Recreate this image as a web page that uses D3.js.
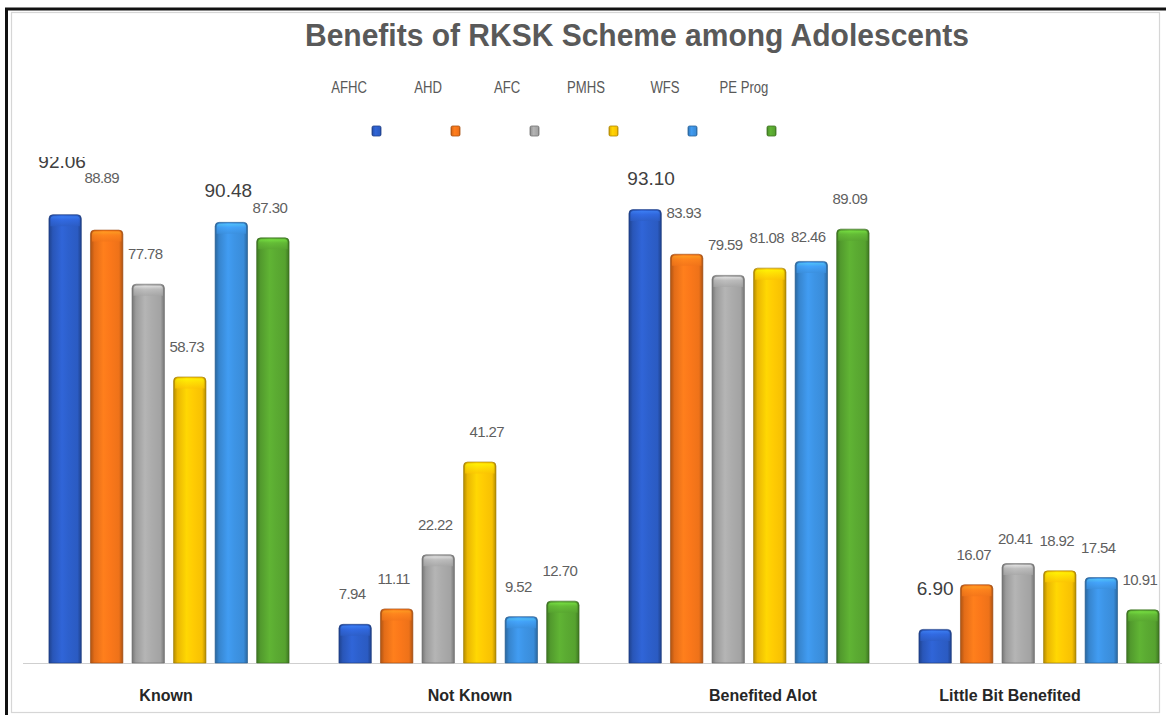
<!DOCTYPE html>
<html>
<head>
<meta charset="utf-8">
<script src="https://cdn.jsdelivr.net/npm/d3@7"></script>
<style>
  body { margin: 0; background: #fff; }
  svg { display: block; }
</style>
</head>
<body>
<svg id="chart" width="1166" height="715"></svg>
<script>
// ---- data ----
const categories = ["Known", "Not Known", "Benefited Alot", "Little Bit Benefited"];
const seriesNames = ["AFHC", "AHD", "AFC", "PMHS", "WFS", "PE Prog"];
const afhc   = [92.06,  7.94, 93.10,  6.90];
const ahd    = [88.89, 11.11, 83.93, 16.07];
const afc    = [77.78, 22.22, 79.59, 20.41];
const pmhs   = [58.73, 41.27, 81.08, 18.92];
const wfs    = [90.48,  9.52, 82.46, 17.54];
const peProg = [87.30, 12.70, 89.09, 10.91];
const seriesValues = [afhc, ahd, afc, pmhs, wfs, peProg];

// ---- styling ----
const colors = ["#2B5BC2", "#EE7219", "#A3A3A3", "#F7C103", "#3A8CD9", "#56A22F"];
const W = 1166, H = 715;
const plot = { left: 24, right: 1184, top: 176, bottom: 663 };

// a few value labels sit off their default spot
const labelNudge = {
  "Known|AFHC": [0, -22], "Known|AHD": [-2, -22],
  "Not Known|PMHS": [10, 0],
  "Benefited Alot|AFHC": [9, 0], "Benefited Alot|AHD": [0, -11], "Benefited Alot|WFS": [0, 6],
  "Little Bit Benefited|AFHC": [3, -9], "Little Bit Benefited|AFC": [0, 5]
};
const bigLabels = new Set(["Known|AFHC", "Known|WFS", "Benefited Alot|AFHC", "Little Bit Benefited|AFHC"]);
const catLabelShift = [-3, 11, 14, -29];

const svg = d3.select("#chart");
const defs = svg.append("defs");

svg.append("rect").attr("width", W).attr("height", H).attr("fill", "#fff");

// horizontal gradients give the bars their rounded, glossy look
colors.forEach((c, i) => {
  const base = d3.color(c);
  const g = defs.append("linearGradient").attr("id", "bar" + i)
    .attr("x1", "0%").attr("x2", "100%").attr("y1", "0%").attr("y2", "0%");
  [[0, base.darker(0.9)], [0.12, base.darker(0.15)], [0.4, base.brighter(0.3)],
   [0.6, base.brighter(0.15)], [0.88, base], [1, base.darker(0.9)]]
    .forEach(([o, col]) => g.append("stop").attr("offset", o).attr("stop-color", col.formatHex()));
  const t = defs.append("linearGradient").attr("id", "cap" + i)
    .attr("x1", "0%").attr("x2", "0%").attr("y1", "0%").attr("y2", "100%");
  [[0, base.brighter(1.1)], [0.35, base.brighter(0.5)], [1, base.brighter(0.05)]]
    .forEach(([o, col]) => t.append("stop").attr("offset", o).attr("stop-color", col.formatHex()));
});

// the legend panel overlaps the top of the plot area
defs.append("clipPath").attr("id", "plotClip")
  .append("rect").attr("x", 12).attr("y", 157).attr("width", 1148).attr("height", 555);

// ---- scales ----
const x0 = d3.scaleBand().domain(categories).range([plot.left, plot.right]).padding(0);
const x1 = d3.scaleBand().domain(seriesNames).range([0, x0.bandwidth()])
  .paddingInner(0.22).paddingOuter(0.6);
const y = d3.scaleLinear().domain([0, 100]).range([plot.bottom, plot.top]);

// ---- frame ----
svg.append("rect").attr("x", 11.5).attr("y", 12.5).attr("width", 1148).attr("height", 700)
  .attr("fill", "none").attr("stroke", "#d6d6d6").attr("stroke-width", 1.2);
svg.append("line").attr("x1", 5).attr("x2", W).attr("y1", 9).attr("y2", 9)
  .attr("stroke", "#111").attr("stroke-width", 3);
svg.append("line").attr("x1", 6.5).attr("x2", 6.5).attr("y1", 8).attr("y2", H)
  .attr("stroke", "#111").attr("stroke-width", 3);

// ---- baseline ----
svg.append("line").attr("x1", 23).attr("x2", 1162)
  .attr("y1", plot.bottom + 0.5).attr("y2", plot.bottom + 0.5)
  .attr("stroke", "#cfcfcf").attr("stroke-width", 1.2);

// ---- bars ----
const rows = [];
categories.forEach((cat, ci) => {
  seriesNames.forEach((s, si) => rows.push({ cat, ci, s, si, v: seriesValues[si][ci] }));
});

const bars = svg.append("g").selectAll("g.bar").data(rows).join("g").attr("class", "bar")
  .attr("transform", d => `translate(${x0(d.cat) + x1(d.s)},0)`);
const bw = x1.bandwidth();

bars.append("path")
  .attr("d", d => {
    const top = y(d.v), bot = y(0), r = 4;
    return `M0,${bot} L0,${top + r} Q0,${top} ${r},${top} L${bw - r},${top} Q${bw},${top} ${bw},${top + r} L${bw},${bot} Z`;
  })
  .attr("fill", d => `url(#bar${d.si})`)
  .attr("stroke", d => d3.color(colors[d.si]).darker(1.3).formatHex())
  .attr("stroke-opacity", 0.6).attr("stroke-width", 1);

bars.append("path")
  .attr("d", d => {
    const top = y(d.v) + 1.5, r = 3, h = Math.min(10, y(0) - top - 1);
    return `M1.5,${top + h} L1.5,${top + r} Q1.5,${top} ${1.5 + r},${top} L${bw - 1.5 - r},${top} Q${bw - 1.5},${top} ${bw - 1.5},${top + r} L${bw - 1.5},${top + h} Z`;
  })
  .attr("fill", d => `url(#cap${d.si})`).attr("opacity", 0.7);

// ---- value labels ----
const fmt = d3.format(".2f");
svg.append("g").attr("clip-path", "url(#plotClip)")
  .selectAll("text").data(rows).join("text")
  .attr("x", d => {
    const n = labelNudge[d.cat + "|" + d.s] || [0, 0];
    return x0(d.cat) + x1(d.s) + bw / 2 - 3 + n[0];
  })
  .attr("y", d => {
    const n = labelNudge[d.cat + "|" + d.s] || [0, 0];
    return y(d.v) - 25 + n[1];
  })
  .attr("text-anchor", "middle")
  .attr("font-family", "Liberation Sans, Arial, sans-serif")
  .attr("font-size", d => bigLabels.has(d.cat + "|" + d.s) ? 19 : 15)
  .attr("fill", d => bigLabels.has(d.cat + "|" + d.s) ? "#404040" : "#5f5f5f")
  .attr("letter-spacing", d => bigLabels.has(d.cat + "|" + d.s) ? 0 : -0.6)
  .text(d => fmt(d.v));

// ---- category labels ----
svg.append("g").selectAll("text").data(categories).join("text")
  .attr("x", (d, i) => x0(d) + x0.bandwidth() / 2 + catLabelShift[i])
  .attr("y", 701)
  .attr("text-anchor", "middle")
  .attr("font-family", "Liberation Sans, Arial, sans-serif")
  .attr("font-weight", "bold").attr("font-size", 16).attr("fill", "#262626")
  .text(d => d);

// ---- title (narrow bold face, stretched to its box) ----
svg.append("text").attr("x", 637).attr("y", 46).attr("text-anchor", "middle")
  .attr("font-family", "Liberation Sans, Arial, sans-serif")
  .attr("font-weight", "bold").attr("font-size", 31).attr("fill", "#595959")
  .attr("textLength", 664).attr("lengthAdjust", "spacingAndGlyphs")
  .text("Benefits of RKSK Scheme among Adolescents");

// ---- legend ----
const lx = d3.scalePoint().domain(seriesNames).range([349, 744]);
const leg = svg.append("g").selectAll("g").data(seriesNames).join("g")
  .attr("transform", d => `translate(${lx(d)},0)`);
leg.append("text")
  .attr("y", 93).attr("text-anchor", "middle")
  .attr("transform", "scale(0.82,1)")
  .attr("x", 0)
  .attr("font-family", "Liberation Sans, Arial, sans-serif")
  .attr("font-size", 16).attr("fill", "#595959")
  .text(d => d);
leg.append("rect")
  .attr("x", 23).attr("y", 126).attr("width", 9).attr("height", 10).attr("rx", 1.5)
  .attr("fill", (d, i) => `url(#bar${i})`)
  .attr("stroke", (d, i) => d3.color(colors[i]).darker(1).formatHex()).attr("stroke-width", 0.8);
</script>
</body>
</html>
